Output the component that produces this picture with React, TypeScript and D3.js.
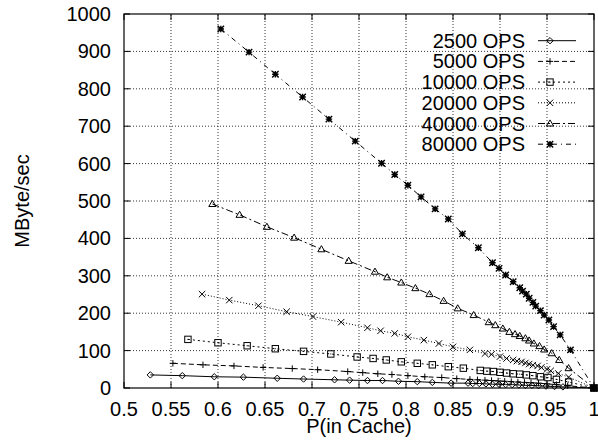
import React from "react";
import * as d3 from "d3";

const seriesNames = ["2500 OPS", "5000 OPS", "10000 OPS", "20000 OPS", "40000 OPS", "80000 OPS"];

const p2500 = [0.528, 0.562, 0.596, 0.627, 0.663, 0.691, 0.724, 0.740, 0.759, 0.775, 0.792, 0.812, 0.828, 0.848, 0.866, 0.871, 0.878, 0.885, 0.892, 0.899, 0.906, 0.913, 0.920, 0.927, 0.934, 0.941, 0.949, 0.958, 0.967, 1.0];
const v2500 = [35, 33, 30, 29, 26, 24, 22, 21, 20, 20, 18, 17, 15, 13, 13, 12, 12, 11, 10, 10, 9, 9, 8, 7, 7, 6, 5, 4, 3, 0];

const p5000 = [0.552, 0.584, 0.617, 0.648, 0.679, 0.706, 0.738, 0.754, 0.770, 0.785, 0.802, 0.820, 0.838, 0.854, 0.868, 0.876, 0.884, 0.891, 0.898, 0.905, 0.912, 0.919, 0.926, 0.933, 0.941, 0.950, 0.960, 0.972, 1.0];
const v5000 = [66, 62, 59, 55, 52, 49, 44, 41, 38, 36, 33, 30, 28, 25, 23, 22, 21, 20, 19, 18, 17, 16, 15, 14, 13, 11, 9, 6, 0];

const p10000 = [0.568, 0.600, 0.631, 0.661, 0.691, 0.720, 0.748, 0.765, 0.779, 0.795, 0.812, 0.828, 0.845, 0.861, 0.879, 0.886, 0.893, 0.900, 0.907, 0.914, 0.921, 0.928, 0.935, 0.943, 0.951, 0.960, 0.973, 1.0];
const v10000 = [130, 121, 113, 105, 98, 91, 83, 79, 75, 70, 66, 62, 57, 53, 47, 45, 44, 42, 40, 38, 37, 35, 33, 30, 28, 23, 16, 0];

const p20000 = [0.583, 0.612, 0.643, 0.673, 0.701, 0.731, 0.759, 0.773, 0.788, 0.802, 0.819, 0.835, 0.850, 0.868, 0.884, 0.891, 0.900, 0.907, 0.914, 0.918, 0.923, 0.927, 0.931, 0.935, 0.940, 0.944, 0.950, 0.954, 0.962, 0.973, 1.0];
const v20000 = [251, 235, 220, 204, 191, 176, 161, 153, 146, 137, 128, 119, 110, 102, 92, 90, 84, 79, 75, 72, 70, 67, 64, 61, 59, 55, 50, 46, 39, 29, 0];

const p40000 = [0.594, 0.623, 0.652, 0.681, 0.710, 0.739, 0.767, 0.780, 0.795, 0.810, 0.825, 0.840, 0.855, 0.872, 0.888, 0.895, 0.903, 0.910, 0.916, 0.921, 0.927, 0.931, 0.936, 0.942, 0.947, 0.955, 0.963, 0.973, 1.0];
const v40000 = [492, 463, 431, 402, 371, 340, 311, 296, 282, 267, 251, 233, 213, 195, 176, 168, 159, 150, 144, 139, 133, 127, 119, 112, 103, 93, 75, 53, 0];

const p80000 = [0.603, 0.633, 0.661, 0.690, 0.718, 0.746, 0.774, 0.788, 0.802, 0.816, 0.831, 0.845, 0.860, 0.877, 0.892, 0.899, 0.906, 0.914, 0.921, 0.924, 0.928, 0.931, 0.935, 0.938, 0.943, 0.947, 0.952, 0.957, 0.964, 0.975, 1.0];
const v80000 = [960, 898, 839, 778, 719, 660, 601, 571, 542, 511, 479, 452, 412, 375, 335, 320, 302, 284, 268, 259, 251, 240, 229, 219, 207, 195, 182, 164, 142, 102, 0];

const xTicks = [0.5, 0.55, 0.6, 0.65, 0.7, 0.75, 0.8, 0.85, 0.9, 0.95, 1];
const xTickLabels = ["0.5", "0.55", "0.6", "0.65", "0.7", "0.75", "0.8", "0.85", "0.9", "0.95", "1"];
const yTicks = [0, 100, 200, 300, 400, 500, 600, 700, 800, 900, 1000];

const allP = [p2500, p5000, p10000, p20000, p40000, p80000];
const allV = [v2500, v5000, v10000, v20000, v40000, v80000];

const markers = ["diamond", "plus", "square", "cross", "triangle", "star"];
const dashes = ["none", "5,3", "2,3", "1,2", "7,3,2,3", "5,4,1,4"];

const W = 598, H = 447;
const M = { left: 124, right: 4, top: 14, bottom: 59 };
const FONT = "'Liberation Sans', Arial, Helvetica, sans-serif";

function Marker({ type, x, y }: { type: string; x: number; y: number }) {
  const s = 3.2;
  const st = { stroke: "#000", strokeWidth: 1, fill: "none" } as const;
  switch (type) {
    case "diamond":
      return <path d={`M${x},${y - s}L${x + s},${y}L${x},${y + s}L${x - s},${y}Z`} {...st} />;
    case "plus":
      return <path d={`M${x - s},${y}H${x + s}M${x},${y - s}V${y + s}`} {...st} />;
    case "square":
      return (
        <g>
          <rect x={x - s} y={y - s} width={2 * s} height={2 * s} {...st} />
          <rect x={x - 0.5} y={y - 0.5} width={1} height={1} fill="#000" />
        </g>
      );
    case "cross":
      return <path d={`M${x - s},${y - s}L${x + s},${y + s}M${x - s},${y + s}L${x + s},${y - s}`} {...st} />;
    case "triangle": {
      const t = 3.6;
      return <path d={`M${x},${y - t}L${x + t},${y + t * 0.7}L${x - t},${y + t * 0.7}Z`} {...st} />;
    }
    case "star":
      return (
        <path
          d={`M${x - s},${y}H${x + s}M${x},${y - s}V${y + s}M${x - s},${y - s}L${x + s},${y + s}M${x - s},${y + s}L${x + s},${y - s}`}
          stroke="#000"
          strokeWidth={1.4}
          fill="none"
        />
      );
  }
  return null;
}

export default function App() {
  const x = d3.scaleLinear().domain([0.5, 1]).range([M.left, W - M.right]);
  const y = d3.scaleLinear().domain([0, 1000]).range([H - M.bottom, M.top]);
  const x0 = x(0.5), x1 = x(1), y0 = y(0), y1 = y(1000);
  const line = d3.line<[number, number]>().x((d) => x(d[0])).y((d) => y(d[1]));

  const legX = 525;
  const legY0 = 40.7;
  const legDy = 20.7;

  return (
    <svg width={W} height={H} style={{ position: "fixed", left: 0, top: 0, background: "#fff" }} fontFamily={FONT}>
      <rect width={W} height={H} fill="#fff" />
      {/* grid */}
      {xTicks.slice(1, -1).map((t) => (
        <line key={"gx" + t} x1={x(t)} x2={x(t)} y1={y0} y2={y1} stroke="#000" strokeWidth={0.8} strokeDasharray="1,2" />
      ))}
      {yTicks.slice(1, -1).map((t) => (
        <line key={"gy" + t} x1={x0} x2={x1} y1={y(t)} y2={y(t)} stroke="#000" strokeWidth={0.8} strokeDasharray="1,2" />
      ))}
      {/* ticks */}
      {xTicks.map((t) => (
        <g key={"tx" + t}>
          <line x1={x(t)} x2={x(t)} y1={y0} y2={y0 - 6} stroke="#000" />
          <line x1={x(t)} x2={x(t)} y1={y1} y2={y1 + 6} stroke="#000" />
          <text x={x(t)} y={y0 + 28} textAnchor="middle" fontSize={20} fill="#000">
            {xTickLabels[xTicks.indexOf(t)]}
          </text>
        </g>
      ))}
      {yTicks.map((t) => (
        <g key={"ty" + t}>
          <line x1={x0} x2={x0 + 6} y1={y(t)} y2={y(t)} stroke="#000" />
          <line x1={x1} x2={x1 - 6} y1={y(t)} y2={y(t)} stroke="#000" />
          <text x={x0 - 13} y={y(t) + 7} textAnchor="end" fontSize={20} fill="#000">
            {t}
          </text>
        </g>
      ))}
      {/* series */}
      {allP.map((ps, i) => {
        const pts: [number, number][] = ps.map((p, j) => [p, allV[i][j]]);
        return (
          <g key={"s" + i}>
            <path
              d={line(pts) || ""}
              fill="none"
              stroke="#000"
              strokeWidth={1}
              strokeDasharray={dashes[i] === "none" ? undefined : dashes[i]}
            />
            {pts.map((d, j) => (
              <Marker key={j} type={markers[i]} x={x(d[0])} y={y(d[1])} />
            ))}
          </g>
        );
      })}
      <rect x={x(1) - 3.5} y={y(0) - 3.5} width={7} height={7} fill="#000" />
      {/* frame */}
      <rect x={x0} y={y1} width={x1 - x0} height={y0 - y1} fill="none" stroke="#000" strokeWidth={1.2} />
      {/* legend */}
      {seriesNames.map((n, i) => {
        const cy = legY0 + i * legDy;
        return (
          <g key={"l" + i}>
            <text x={legX} y={cy + 7} textAnchor="end" fontSize={20} fill="#000">
              {n}
            </text>
            <line
              x1={538}
              x2={576}
              y1={cy}
              y2={cy}
              stroke="#000"
              strokeWidth={1}
              strokeDasharray={dashes[i] === "none" ? undefined : dashes[i]}
            />
            <Marker type={markers[i]} x={550} y={cy} />
          </g>
        );
      })}
      {/* axis labels */}
      <text x={(x0 + x1) / 2} y={433} textAnchor="middle" fontSize={20} fill="#000">
        P(in Cache)
      </text>
      <text transform={`translate(28.5,${(y0 + y1) / 2}) rotate(-90)`} textAnchor="middle" fontSize={20} fill="#000">
        MByte/sec
      </text>
    </svg>
  );
}
